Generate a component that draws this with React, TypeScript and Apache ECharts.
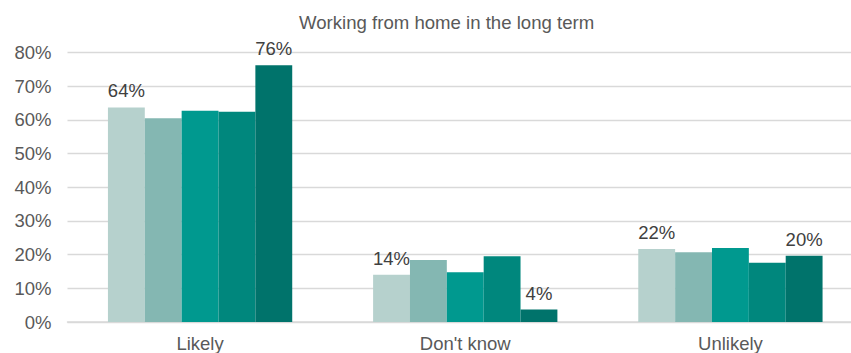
import React, { useEffect, useRef } from "react";
import * as echarts from "echarts";

const title = "Working from home in the long term";
const categories = ["Likely", "Don't know", "Unlikely"];
const seriesNames = ["Group 1", "Group 2", "Group 3", "Group 4", "Group 5"];
const group1 = [63.7, 14.0, 21.7];
const group2 = [60.5, 18.4, 20.7];
const group3 = [62.7, 14.8, 22.0];
const group4 = [62.4, 19.5, 17.6];
const group5 = [76.2, 3.7, 19.7];
const colors = ["#B6D1CD", "#84B7B2", "#00998F", "#00877D", "#00736B"];
const labelled = [true, false, false, false, true];
const yMax = 80;
const yInterval = 10;

export default function App() {
  const ref = useRef<HTMLDivElement>(null);
  useEffect(() => {
    if (!ref.current) return;
    const chart = echarts.init(ref.current, null, { renderer: "svg" });
    const values = [group1, group2, group3, group4, group5];
    chart.setOption({
      animation: false,
      textStyle: { fontFamily: "Liberation Sans, Arial, sans-serif" },
      title: {
        text: title,
        left: 294,
        top: 8,
        textStyle: { fontSize: 18.6, fontWeight: "normal", color: "#595959" },
      },
      grid: {
        left: 67.5,
        top: 52.5,
        right: 0,
        height: 269.5,
        containLabel: false,
        outerBoundsMode: "none",
      },
      xAxis: {
        type: "category",
        data: categories,
        axisTick: { show: false },
        axisLine: { lineStyle: { color: "#D9D9D9", width: 1.5 } },
        axisLabel: { color: "#595959", fontSize: 18.5, margin: 12 },
      },
      yAxis: {
        type: "value",
        min: 0,
        max: yMax,
        interval: yInterval,
        axisLine: { show: false },
        axisTick: { show: false },
        splitLine: { lineStyle: { color: "#D9D9D9", width: 1.3 } },
        axisLabel: { color: "#595959", fontSize: 18.5, margin: 16, formatter: "{value}%" },
      },
      series: values.map((d, i) => ({
        name: seriesNames[i],
        type: "bar",
        data: d,
        barGap: "0%",
        barCategoryGap: "30.5%",
        itemStyle: { color: colors[i] },
        label: {
          show: labelled[i],
          position: "top",
          distance: 7,
          color: "#404040",
          fontSize: 18.5,
          formatter: (p: any) => `${Math.round(p.value)}%`,
        },
      })),
    });
    return () => chart.dispose();
  }, []);
  return (
    <div
      style={{
        position: "absolute",
        left: 0,
        top: 0,
        width: 851,
        height: 353,
        overflow: "hidden",
        background: "#fff",
      }}
    >
      <div ref={ref} style={{ width: 863, height: 353 }} />
    </div>
  );
}
